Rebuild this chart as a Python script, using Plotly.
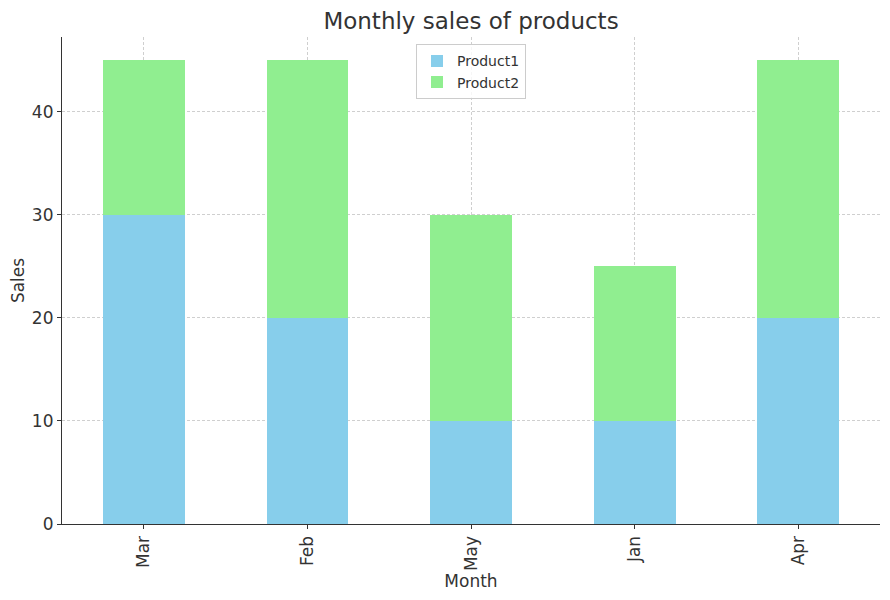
import plotly.graph_objects as go

months = ["Mar", "Feb", "May", "Jan", "Apr"]
product1 = [30, 20, 10, 10, 20]
product2 = [15, 25, 20, 15, 25]

font = "DejaVu Sans"
fig = go.Figure()
fig.add_trace(go.Bar(x=months, y=product1, name="Product1", marker=dict(color="#87CEEB", line=dict(width=0))))
fig.add_trace(go.Bar(x=months, y=product2, name="Product2", marker=dict(color="#90EE90", line=dict(width=0))))

grid = dict(showgrid=True, gridcolor="#cfcfcf", griddash="3px,2px", gridwidth=0.8, layer="above traces")
fig.update_layout(
    barmode="stack",
    bargap=0.5,
    width=882, height=592,
    margin=dict(l=54, r=10, t=29, b=76, autoexpand=False),
    plot_bgcolor="white", paper_bgcolor="white",
    font=dict(family=font, color="#333333", size=16),
    title=dict(text="Monthly sales of products", xref="paper", x=0.5, xanchor="center", y=0.978, yanchor="middle",
               font=dict(size=23, color="#333333", family=font)),
    legend=dict(x=0.5, xanchor="center", y=0.985, yanchor="top", bordercolor="#cccccc", borderwidth=1,
                traceorder="normal", tracegroupgap=0,
                bgcolor="rgba(255,255,255,0.8)", font=dict(size=14, color="#333333")),
    xaxis=dict(title=dict(text="Month", font=dict(size=17), standoff=4), tickangle=-90,
               showline=True, linecolor="#333333", linewidth=1.2, mirror=False,
               ticks="outside", ticklen=4, tickcolor="#333333",
               range=[-0.5, 4.5], tickfont=dict(size=17), **grid),
    yaxis=dict(title=dict(text="Sales", font=dict(size=17), standoff=8),
               showline=True, linecolor="#333333", linewidth=1.2, mirror=False,
               ticks="outside", ticklen=4, tickcolor="#333333",
               range=[0, 47.25], dtick=10, zeroline=False, tickfont=dict(size=17), **grid),
)
fig.write_html("out.html")
